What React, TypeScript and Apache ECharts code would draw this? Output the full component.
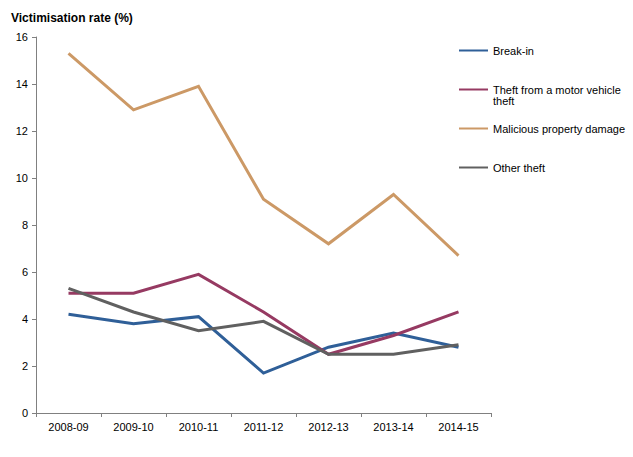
import React, { useEffect, useRef } from "react";
import * as echarts from "echarts";

const categories = ["2008-09", "2009-10", "2010-11", "2011-12", "2012-13", "2013-14", "2014-15"];
const breakIn = [4.2, 3.8, 4.1, 1.7, 2.8, 3.4, 2.8];
const theftMotor = [5.1, 5.1, 5.9, 4.3, 2.5, 3.3, 4.3];
const malicious = [15.3, 12.9, 13.9, 9.1, 7.2, 9.3, 6.7];
const otherTheft = [5.3, 4.3, 3.5, 3.9, 2.5, 2.5, 2.9];
const seriesNames = ["Break-in", "Theft from a motor vehicle theft", "Malicious property damage", "Other theft"];
const seriesColors = ["#2F5F98", "#963A62", "#CC9966", "#606060"];
const seriesData = [breakIn, theftMotor, malicious, otherTheft];
const legendTops = [40, 68, 118, 157];

const FONT = "'Liberation Sans', Arial, sans-serif";

export default function App() {
  const ref = useRef<HTMLDivElement>(null);
  useEffect(() => {
    if (!ref.current) return;
    const chart = echarts.init(ref.current, null, { renderer: "svg" });
    chart.setOption({
      animation: false,
      backgroundColor: "#ffffff",
      textStyle: { fontFamily: FONT },
      title: {
        text: "Victimisation rate (%)",
        left: 6,
        top: 7,
        textStyle: { fontFamily: FONT, fontSize: 12, fontWeight: "bold", color: "#000" },
      },
      grid: { left: 36, right: 142, top: 37, bottom: 44, containLabel: false },
      legend: seriesNames.map((n, i) => ({
        data: [n],
        orient: "vertical",
        left: 454,
        top: legendTops[i],
        itemWidth: 29,
        itemHeight: 12,
        itemGap: 0,
        icon: "path://M0,5 L29,5 L29,7 L0,7 Z",
        formatter: (name: string) =>
          name === "Theft from a motor vehicle theft" ? " \nTheft from a motor vehicle\ntheft" : name,
        textStyle: {
          fontFamily: FONT,
          fontSize: 11,
          color: "#000",
          lineHeight: 11,
        },
        selectedMode: false,
      })),
      xAxis: {
        type: "category",
        data: categories,
        boundaryGap: true,
        axisLine: { lineStyle: { color: "#808080", width: 1 } },
        axisTick: { show: true, length: 4, inside: false, lineStyle: { color: "#808080" } },
        axisLabel: { color: "#000", fontSize: 11, fontFamily: FONT, margin: 8 },
        splitLine: { show: false },
      },
      yAxis: {
        type: "value",
        min: 0,
        max: 16,
        interval: 2,
        axisLine: { show: true, lineStyle: { color: "#808080", width: 1 } },
        axisTick: { show: true, length: 4, lineStyle: { color: "#808080" } },
        axisLabel: { color: "#000", fontSize: 11, fontFamily: FONT, margin: 8 },
        splitLine: { show: false },
      },
      series: seriesNames.map((n, i) => ({
        name: n,
        type: "line",
        data: seriesData[i],
        symbol: "none",
        color: seriesColors[i],
        lineStyle: { width: 3, color: seriesColors[i], join: "miter" },
        z: i === 2 ? 1 : 2 + i,
      })),
    });
    return () => chart.dispose();
  }, []);
  return (
    <div
      ref={ref}
      style={{ position: "fixed", left: 0, top: 0, width: 633, height: 457 }}
    />
  );
}
